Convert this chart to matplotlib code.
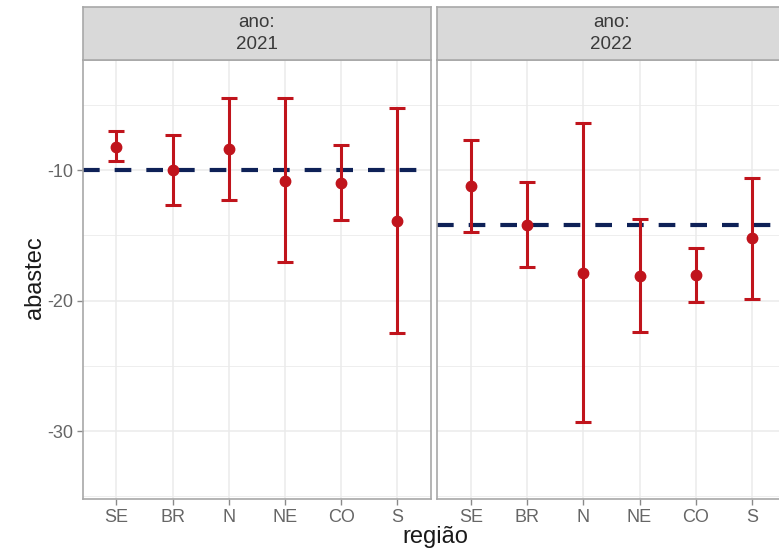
import matplotlib
matplotlib.use("Agg")
import matplotlib.pyplot as plt
import numpy as np

plt.rcParams['font.family'] = ['Liberation Sans', 'DejaVu Sans']

regions = ["SE", "BR", "N", "NE", "CO", "S"]
years = ["2021", "2022"]

est_2021 = [-8.2, -10.0, -8.4, -10.8, -10.95, -13.9]
low_2021 = [-9.3, -12.65, -12.25, -17.0, -13.85, -22.5]
high_2021 = [-7.0, -7.3, -4.45, -4.45, -8.05, -5.2]

est_2022 = [-11.2, -14.2, -17.85, -18.1, -18.05, -15.2]
low_2022 = [-14.7, -17.4, -29.3, -22.4, -20.1, -19.85]
high_2022 = [-7.65, -10.9, -6.4, -13.75, -15.95, -10.6]

ref_lines = [-10.0, -14.2]

yticks = [-10, -20, -30]
yminor = [-5, -15, -25, -35]

W, H = 779, 556
fig = plt.figure(figsize=(W / 100, H / 100), dpi=100)

panel_w = 348.3
lefts = [82.7, 437.3]
top, bottom = 60.0, 499.0
strip_top = 7.0

red = "#C0141C"
navy = "#0E2157"
border = "#A8A8A8"
grid = "#EBEBEB"
tickcol = "#666666"

data = [(est_2021, low_2021, high_2021), (est_2022, low_2022, high_2022)]

for i, (left, yr) in enumerate(zip(lefts, years)):
    est, low, high = data[i]
    ax = fig.add_axes([left / W, 1 - bottom / H, panel_w / W, (bottom - top) / H])
    x = np.arange(len(regions))
    est_a = np.array(est)
    yerr = [est_a - np.array(low), np.array(high) - est_a]
    ax.set_xlim(-0.6, len(regions) - 1 + 0.6)
    ax.set_ylim(-35.2, -1.55)
    for m in yminor:
        ax.axhline(m, color=grid, lw=0.6, zorder=0)
    for t in yticks:
        ax.axhline(t, color=grid, lw=1.1, zorder=0)
    for xi in x:
        ax.axvline(xi, color=grid, lw=1.1, zorder=0)
    ax.axhline(ref_lines[i], color=navy, lw=3.0, linestyle=(0, (4, 3.6)), zorder=2)
    ax.errorbar(x, est, yerr=yerr, fmt='o', color=red, ecolor=red, elinewidth=2.2,
                capsize=5.5, capthick=2.2, markersize=7.5, zorder=3)
    ax.set_xticks(x)
    ax.set_xticklabels(regions, fontsize=13, color=tickcol)
    ax.set_yticks(yticks)
    if i == 0:
        ax.set_yticklabels([str(t) for t in yticks], fontsize=13, color=tickcol)
    else:
        ax.set_yticklabels([])
    ax.tick_params(axis='both', color='#8A8A8A', length=4, width=1, pad=3)
    if i == 1:
        ax.tick_params(axis='y', length=0)
    for s in ax.spines.values():
        s.set_color(border)
        s.set_linewidth(1.2)

    sax = fig.add_axes([left / W, 1 - top / H, panel_w / W, (top - strip_top) / H])
    sax.set_facecolor("#D9D9D9")
    sax.set_xticks([])
    sax.set_yticks([])
    for s in sax.spines.values():
        s.set_color(border)
        s.set_linewidth(1.2)
    sax.text(0.5, 0.5, "ano:\n" + yr, ha='center', va='center', fontsize=13.5,
             color="#3A3A3A", transform=sax.transAxes, linespacing=1.45)

fig.text(435 / W, 1 - 537 / H, "região", ha='center', va='center', fontsize=17, color="#1A1A1A")
fig.text(35 / W, 1 - 278 / H, "abastec", ha='center', va='center', rotation=90,
         fontsize=17, color="#1A1A1A")

fig.savefig("out.png", dpi=100)
